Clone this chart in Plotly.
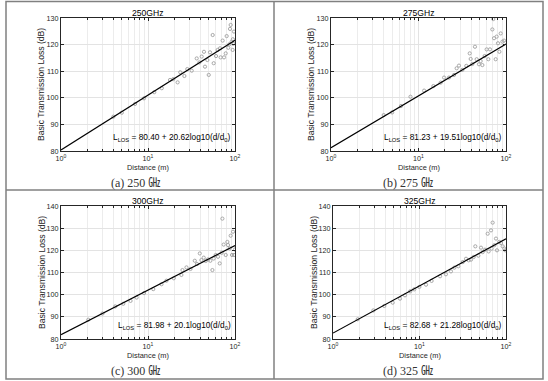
import math
import plotly.graph_objects as go

# ---------------- data ----------------
freq_titles = ["250GHz", "275GHz", "300GHz", "325GHz"]
captions = ["(a) 250 ㎓", "(b) 275 ㎓", "(c) 300 ㎓", "(d) 325 ㎓"]
fit_A = [80.40, 81.23, 81.98, 82.68]
fit_B = [20.62, 19.51, 20.10, 21.28]
fit_text = ["80.40 + 20.62", "81.23 + 19.51", "81.98 + 20.1", "82.68 + 21.28"]
y_ranges = [[80, 130], [80, 130], [80, 140], [80, 140]]

d_250 = [4.0, 5.0, 7.1, 9.0, 11.8, 14.4, 17.9, 19.5, 21.9, 23.5, 26.2, 28.3, 31.8, 36.3, 38.9,
         41.4, 44.0, 45.2, 48.1, 49.9, 51.6, 55.4, 56.9, 60.5, 63.2, 67.3, 68.4, 72.1, 74.8,
         78.2, 80.2, 83.8, 86.0, 87.6, 89.2, 91.6, 94.0, 94.5, 95.7, 97.4]
L_250 = [92.9, 94.4, 97.7, 99.8, 102.1, 103.6, 106.7, 107.0, 105.8, 109.6, 108.2, 110.8, 110.2,
         114.8, 113.3, 115.5, 117.3, 111.7, 114.2, 108.6, 117.1, 123.6, 113.0, 115.7, 118.0,
         118.6, 115.2, 121.5, 115.2, 116.7, 123.2, 118.8, 120.1, 125.9, 127.4, 121.1, 118.0,
         122.0, 120.3, 124.9]

d_275 = [4.0, 5.0, 6.3, 8.1, 11.6, 14.8, 17.9, 19.6, 22.3, 25.5, 27.3, 29.0, 31.7, 35.2, 38.5,
         39.5, 41.2, 44.2, 46.2, 49.1, 51.3, 53.7, 57.0, 60.1, 62.8, 65.6, 69.8, 71.6, 73.0,
         76.2, 78.2, 81.0, 84.0, 87.0, 91.0, 95.0]
L_275 = [93.5, 94.5, 96.9, 100.4, 102.7, 104.4, 105.7, 107.6, 107.6, 108.6, 111.1, 112.1, 110.5,
         112.0, 116.7, 114.6, 112.7, 119.2, 114.5, 112.6, 113.8, 112.3, 115.7, 118.2, 114.5,
         118.2, 125.7, 129.6, 122.4, 114.5, 123.0, 120.5, 117.3, 124.2, 121.1, 121.5]

d_300 = [2.06, 3.0, 4.2, 5.2, 6.3, 7.4, 9.0, 11.5, 14.3, 16.3, 19.8, 24.2, 24.9, 27.7, 30.8,
         34.5, 36.6, 39.4, 41.1, 43.7, 46.0, 49.0, 52.1, 55.0, 56.9, 60.0, 63.8, 66.7, 70.3,
         71.6, 74.1, 78.2, 81.7, 83.1, 86.9, 89.2, 92.4, 94.9, 97.4, 100.0]
L_300 = [88.7, 91.5, 94.7, 95.9, 97.2, 98.7, 100.7, 102.5, 104.7, 106.3, 107.4, 108.9, 111.1,
         112.3, 111.6, 115.3, 113.8, 118.6, 115.6, 116.7, 115.2, 115.9, 115.3, 111.1, 116.3,
         117.9, 117.1, 114.1, 118.9, 134.3, 122.6, 117.9, 123.8, 122.4, 120.9, 126.6, 117.9,
         128.4, 117.9, 120.4]

d_325 = [1.93, 2.93, 3.92, 4.9, 5.95, 6.8, 7.8, 8.7, 9.96, 11.9, 13.8, 17.3, 20.2, 23.1, 25.3,
         28.1, 31.6, 34.5, 37.0, 39.4, 42.3, 44.2, 47.9, 51.4, 53.7, 57.2, 61.4, 63.0, 67.1,
         68.3, 70.1, 73.3, 76.6, 78.7, 83.7, 87.5, 91.5, 95.7, 98.2]
L_325 = [88.9, 92.9, 94.9, 96.4, 98.2, 99.7, 101.5, 102.4, 103.5, 104.5, 106.2, 108.3, 109.2,
         110.5, 112.2, 112.8, 114.7, 116.2, 115.5, 115.8, 117.0, 121.8, 117.6, 121.2, 119.2,
         120.3, 127.5, 119.5, 129.0, 120.8, 132.5, 122.3, 125.3, 120.0, 123.8, 123.3, 121.8,
         120.8, 120.0]

dist_data = [d_250, d_275, d_300, d_325]
loss_data = [L_250, L_275, L_300, L_325]
d_line = [1, 100]
x_tickvals = [1, 10, 100]
x_ticktext = ["10<sup>0</sup>", "10<sup>1</sup>", "10<sup>2</sup>"]
x_minor = [2, 3, 4, 5, 6, 7, 8, 9, 20, 30, 40, 50, 60, 70, 80, 90]
x_title = "Distance (m)"
y_title = "Basic Transmission Loss (dB)"

# ---------------- layout geometry (pixels) ----------------
W, H = 548, 381
panels_px = [  # x0, x1, y0(top), y1(bottom)
    (61, 235, 18, 151),
    (331, 506, 18, 151),
    (61, 235, 206, 339),
    (333, 506, 206, 339),
]
caption_px = [(135, 183), (408, 183), (135, 371), (408, 371)]

FONT = "Liberation Sans, Arial, sans-serif"
AX = "#262626"
fig = go.Figure()
annotations = []
for i in range(4):
    xa = "x" if i == 0 else f"x{i+1}"
    ya = "y" if i == 0 else f"y{i+1}"
    A, B = fit_A[i], fit_B[i]
    L_line = [A + B * math.log10(d) for d in d_line]
    fig.add_trace(go.Scatter(x=dist_data[i], y=loss_data[i], mode="markers",
                             marker=dict(symbol="circle-open", size=3.2, color="#a8a8a8",
                                         line=dict(width=1, color="#a8a8a8")),
                             xaxis=xa, yaxis=ya, showlegend=False))
    fig.add_trace(go.Scatter(x=d_line, y=L_line, mode="lines",
                             line=dict(color="black", width=1.2),
                             xaxis=xa, yaxis=ya, showlegend=False))
    x0, x1, y0, y1 = panels_px[i]
    dom_x = [x0 / W, x1 / W]
    dom_y = [1 - y1 / H, 1 - y0 / H]
    xkey = "xaxis" if i == 0 else f"xaxis{i+1}"
    ykey = "yaxis" if i == 0 else f"yaxis{i+1}"
    fig.layout[xkey] = dict(
        domain=dom_x, type="log", range=[0, 2], anchor=ya, automargin=False,
        tickmode="array", tickvals=x_tickvals, ticktext=x_ticktext,
        showgrid=True, gridcolor="#e3e3e3", gridwidth=1,
        minor=dict(tickmode="array", tickvals=x_minor, showgrid=True,
                   gridcolor="#ececec", ticks="inside", ticklen=2, tickcolor=AX),
        ticks="inside", ticklen=3, tickcolor=AX,
        showline=True, linecolor=AX, linewidth=1, mirror="ticks",
        tickfont=dict(family=FONT, size=7.2, color=AX),
        zeroline=False,
    )
    fig.layout[ykey] = dict(
        domain=dom_y, range=y_ranges[i], anchor=xa, dtick=10, automargin=False,
        showgrid=True, gridcolor="#e3e3e3", gridwidth=1,
        ticks="inside", ticklen=3, tickcolor=AX,
        showline=True, linecolor=AX, linewidth=1, mirror="ticks",
        tickfont=dict(family=FONT, size=7.2, color=AX),
        zeroline=False,
    )
    # x axis title
    annotations.append(dict(text=x_title, x=(x0 + x1) / 2 / W, y=1 - (y1 + 16.5) / H,
                            xref="paper", yref="paper", showarrow=False,
                            font=dict(family=FONT, size=7.4, color=AX),
                            xanchor="center", yanchor="middle"))
    # y axis title
    annotations.append(dict(text=y_title, x=(x0 - 19.5) / W, y=1 - (y0 + y1) / 2 / H,
                            xref="paper", yref="paper", showarrow=False, textangle=-90,
                            font=dict(family=FONT, size=8.6, color=AX),
                            xanchor="center", yanchor="middle"))
    # subplot title
    annotations.append(dict(text=freq_titles[i], x=(x0 + x1) / 2 / W, y=1 - (y0 - 5) / H,
                            xref="paper", yref="paper", showarrow=False,
                            font=dict(family=FONT, size=8.6, color="black"),
                            xanchor="center", yanchor="middle"))
    # fit formula
    annotations.append(dict(text=f"L<sub>LOS</sub> = {fit_text[i]}log10(d/d<sub>0</sub>)",
                            x=2, y=y_ranges[i][0] + (y_ranges[i][1] - y_ranges[i][0]) * 0.1,
                            xref=xa, yref=ya, xshift=-2, showarrow=False,
                            font=dict(family=FONT, size=8.3, color="black"),
                            xanchor="right", yanchor="middle"))
    # caption
    cx, cy = caption_px[i]
    annotations.append(dict(text=captions[i], x=cx / W, y=1 - cy / H, xref="paper", yref="paper",
                            showarrow=False, font=dict(family="Liberation Serif, Noto Sans CJK SC, serif",
                                                       size=12, color="#333333"),
                            xanchor="center", yanchor="middle"))

# table borders
BC = "#808080"
shapes = [
    dict(type="rect", xref="paper", yref="paper", x0=6 / W, x1=543 / W, y0=1 - 379 / H, y1=1 - 1.5 / H,
         line=dict(color=BC, width=1.5)),
    dict(type="line", xref="paper", yref="paper", x0=274 / W, x1=274 / W, y0=1 - 379 / H, y1=1 - 1.5 / H,
         line=dict(color=BC, width=1.5)),
    dict(type="line", xref="paper", yref="paper", x0=6 / W, x1=543 / W, y0=1 - 190 / H, y1=1 - 190 / H,
         line=dict(color=BC, width=1.5)),
]

fig.update_layout(width=W, height=H, margin=dict(l=0, r=0, t=0, b=0, autoexpand=False),
                  paper_bgcolor="white", plot_bgcolor="white",
                  annotations=annotations, shapes=shapes)
fig.write_html("out.html", config={"displayModeBar": False},
               post_script="document.body.style.margin='0';document.body.style.padding='0';"
                           "document.documentElement.style.overflow='hidden';")
